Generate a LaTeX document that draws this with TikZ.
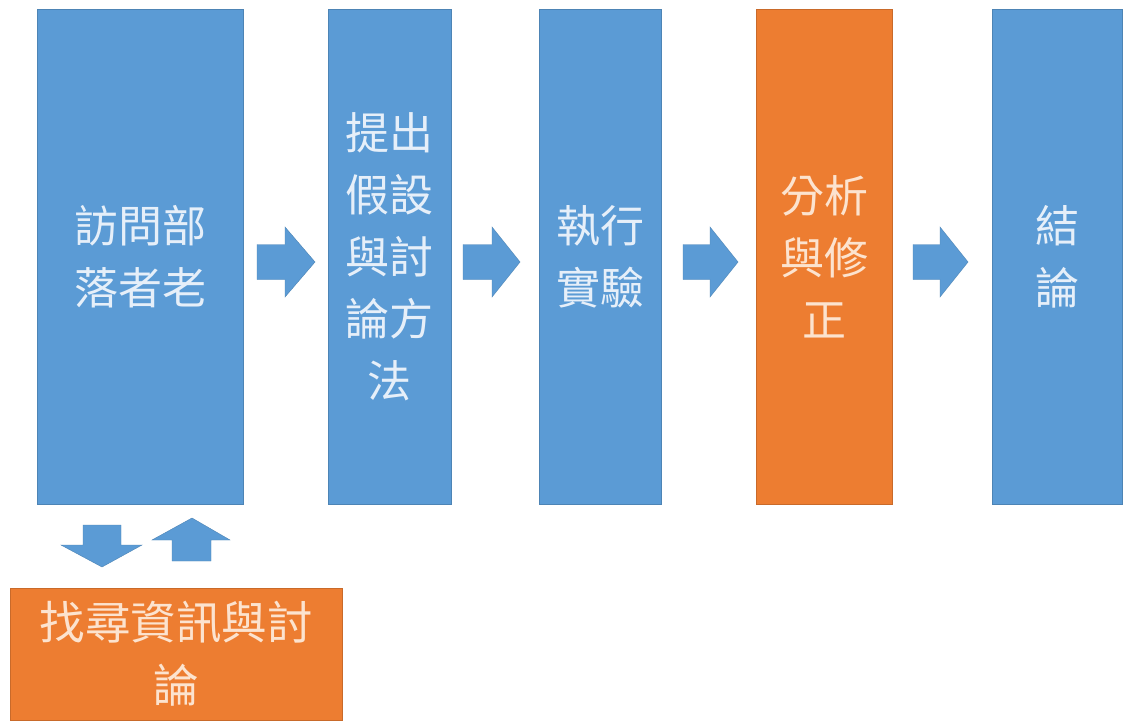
\documentclass[tikz,border=0pt]{standalone}
\usepackage{fontspec}
\newfontfamily\cjk{Noto Sans CJK TC}
\definecolor{boxblue}{HTML}{5B9BD5}
\definecolor{boxorange}{HTML}{ED7D31}
\definecolor{txtblue}{HTML}{E6EFF9}
\definecolor{txtorange}{HTML}{FCE3CF}
\begin{document}
\begin{tikzpicture}[x=1pt,y=-1pt,
  blockbase/.style={inner sep=0pt, align=center, font=\cjk\fontsize{44}{62}\selectfont},
  bluebox/.style={blockbase, fill=boxblue, draw=boxblue!85!black, line width=0.6pt, text=txtblue, minimum height=495pt},
  orangebox/.style={blockbase, fill=boxorange, draw=boxorange!85!black, line width=0.6pt, text=txtorange},
  blockarrow/.style={fill=boxblue, draw=boxblue!85!black, line width=0.4pt}]
\useasboundingbox[fill=white] (0,0) rectangle (1123,722);
% boxes
\node[bluebox, minimum width=206pt] (b1) at (140,256.5) {訪問部\\落者老};
\node[bluebox, minimum width=123pt] (b2) at (389.5,256.5) {提出\\假設\\與討\\論方\\法};
\node[bluebox, minimum width=122pt] (b3) at (600,256.5) {執行\\實驗};
\node[orangebox, minimum width=136pt, minimum height=495pt] (b4) at (824,256.5) {分析\\與修\\正};
\node[bluebox, minimum width=130pt] (b5) at (1057,256.5) {結\\論};
\node[orangebox, minimum width=332pt, minimum height=132pt, font=\cjk\fontsize{45.5}{63}\selectfont] (bb) at (176,654) {找尋資訊與討\\論};
% right-pointing block arrows
\fill[blockarrow] (257,244.5) -- (285,244.5) -- (285,227) -- (315,262) -- (285,297) -- (285,279.5) -- (257,279.5) -- cycle;
\fill[blockarrow] (463,244.5) -- (492,244.5) -- (492,227) -- (520,262) -- (492,297) -- (492,279.5) -- (463,279.5) -- cycle;
\fill[blockarrow] (683,244.5) -- (710,244.5) -- (710,227) -- (738,262) -- (710,297) -- (710,279.5) -- (683,279.5) -- cycle;
\fill[blockarrow] (913,244.5) -- (940,244.5) -- (940,227) -- (968,262) -- (940,297) -- (940,279.5) -- (913,279.5) -- cycle;
% down and up block arrows
\fill[blockarrow] (83,525) -- (121,525) -- (121,545) -- (142,545) -- (102,567) -- (61,545) -- (83,545) -- cycle;
\fill[blockarrow] (192,518) -- (230,540) -- (211,540) -- (211,561) -- (172,561) -- (172,540) -- (152,540) -- cycle;
\end{tikzpicture}
\end{document}
